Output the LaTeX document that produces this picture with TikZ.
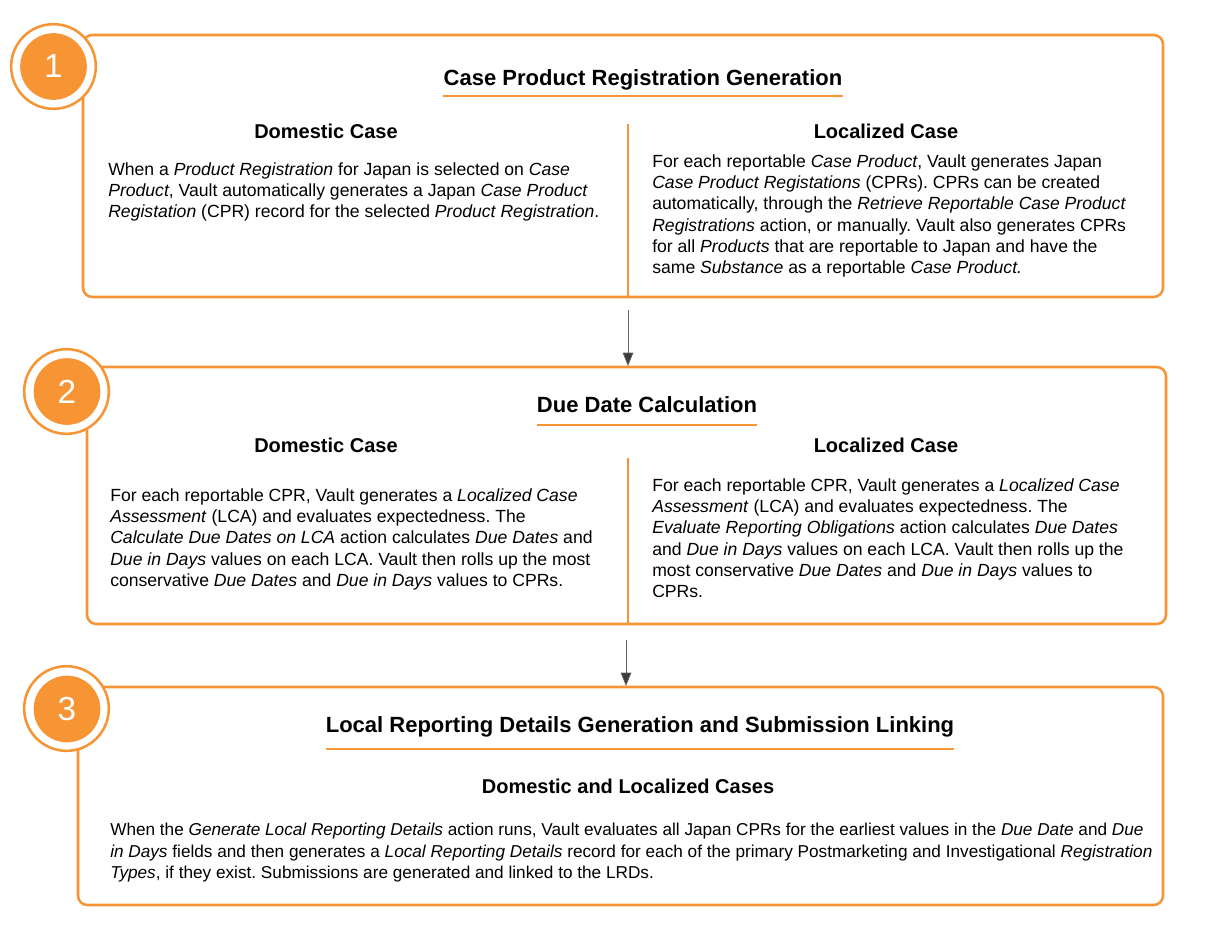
\documentclass[tikz,border=0pt]{standalone}
\usepackage{fontspec}
\setmainfont{Liberation Sans}
\usetikzlibrary{arrows.meta}
\definecolor{vorange}{RGB}{247, 148, 52}
\definecolor{arrowgray}{RGB}{60, 60, 60}
\frenchspacing

\tikzset{
  stagebox/.style={draw=vorange, line width=1.9pt, rounded corners=7pt},
  divider/.style={draw=vorange, line width=1.5pt},
  underline/.style={draw=vorange, line width=1.6pt},
  badgering/.style={circle, draw=vorange, fill=white, line width=1.9pt, minimum size=63.5pt, inner sep=0pt},
  badgefill/.style={circle, fill=vorange, text=white, minimum size=50pt, inner sep=0pt, font=\fontsize{25}{25}\selectfont},
  stagetitle/.style={anchor=base, inner sep=0pt, font=\fontsize{16.5}{20}\selectfont\bfseries},
  casehead/.style={anchor=base, inner sep=0pt, font=\fontsize{15}{18}\selectfont\bfseries},
  bodytext/.style={anchor=north west, inner sep=0pt, align=left, font=\fontsize{13.2}{16}\selectfont},
  widetext/.style={bodytext, font=\fontsize{12.9}{16}\selectfont},
  flowarrow/.style={draw=arrowgray!80, line width=0.6pt, -{Triangle[length=10pt, width=8pt, fill=arrowgray]}}
}

\begin{document}
\begin{tikzpicture}[x=0.75pt, y=-0.75pt]
\useasboundingbox (0, 0) rectangle (1206, 936);
\fill[white] (0, 0) rectangle (1206, 936);

% stage 1
\draw[stagebox] (83, 35) rectangle (1163, 297);
\draw[divider] (628, 124) -- (628, 296);
\node[badgering] (ring1) at (53.5, 66.5) {};
\node[badgefill] (num1) at (ring1) {1};
\node[stagetitle] (title1) at (643, 85) {Case Product Registration Generation};
\draw[underline] ([yshift=-8.25pt]title1.base west) -- ([yshift=-8.25pt]title1.base east);
\node[casehead] (dom1) at (326, 138) {Domestic Case};
\node[casehead] (loc1) at (886, 138) {Localized Case};
\node[bodytext] (domtext1) at (108, 162) {When a \textit{Product Registration} for Japan is selected on \textit{Case}\\
\textit{Product}, Vault automatically generates a Japan \textit{Case Product}\\
\textit{Registation} (CPR) record for the selected \textit{Product Registration}.};
\node[bodytext] (loctext1) at (652, 154) {For each reportable \textit{Case Product}, Vault generates Japan\\
\textit{Case Product Registations} (CPRs). CPRs can be created\\
automatically, through the \textit{Retrieve Reportable Case Product}\\
\textit{Registrations} action, or manually. Vault also generates CPRs\\
for all \textit{Products} that are reportable to Japan and have the\\
same \textit{Substance} as a reportable \textit{Case Product.}};

% stage 2
\draw[stagebox] (87, 367) rectangle (1166, 624);
\draw[divider] (628, 458) -- (628, 623);
\node[badgering] (ring2) at (66.5, 391.5) {};
\node[badgefill] (num2) at (67, 391.5) {2};
\node[stagetitle] (title2) at (647, 412) {Due Date Calculation};
\draw[underline] ([yshift=-9.75pt]title2.base west) -- ([yshift=-9.75pt]title2.base east);
\node[casehead] (dom2) at (326, 452) {Domestic Case};
\node[casehead] (loc2) at (886, 452) {Localized Case};
\node[bodytext] (domtext2) at (110, 488) {For each reportable CPR, Vault generates a \textit{Localized Case}\\
\textit{Assessment} (LCA) and evaluates expectedness. The\\
\textit{Calculate Due Dates on LCA} action calculates \textit{Due Dates} and\\
\textit{Due in Days} values on each LCA. Vault then rolls up the most\\
conservative \textit{Due Dates} and \textit{Due in Days} values to CPRs.};
\node[bodytext] (loctext2) at (652, 478) {For each reportable CPR, Vault generates a \textit{Localized Case}\\
\textit{Assessment} (LCA) and evaluates expectedness. The\\
\textit{Evaluate Reporting Obligations} action calculates \textit{Due Dates}\\
and \textit{Due in Days} values on each LCA. Vault then rolls up the\\
most conservative \textit{Due Dates} and \textit{Due in Days} values to\\
CPRs.};

% stage 3
\draw[stagebox] (78, 687) rectangle (1163, 905);
\node[badgering] (ring3) at (66.5, 708.5) {};
\node[badgefill] (num3) at (67, 709) {3};
\node[stagetitle] (title3) at (640, 732) {Local Reporting Details Generation and Submission Linking};
\draw[underline] ([yshift=-12.75pt]title3.base west) -- ([yshift=-12.75pt]title3.base east);
\node[casehead] (both3) at (628, 793) {Domestic and Localized Cases};
\node[widetext] (text3) at (110, 823) {When the \textit{Generate Local Reporting Details} action runs, Vault evaluates all Japan CPRs for the earliest values in the \textit{Due Date} and \textit{Due}\\
\textit{in Days} fields and then generates a \textit{Local Reporting Details} record for each of the primary Postmarketing and Investigational \textit{Registration}\\
\textit{Types}, if they exist. Submissions are generated and linked to the LRDs.};

% flow
\coordinate (flow1a) at (628, 310);
\coordinate (flow1b) at (628, 366);
\coordinate (flow2a) at (626, 640);
\coordinate (flow2b) at (626, 686);
\draw[flowarrow] (flow1a) -- (flow1b);
\draw[flowarrow] (flow2a) -- (flow2b);
\end{tikzpicture}
\end{document}
